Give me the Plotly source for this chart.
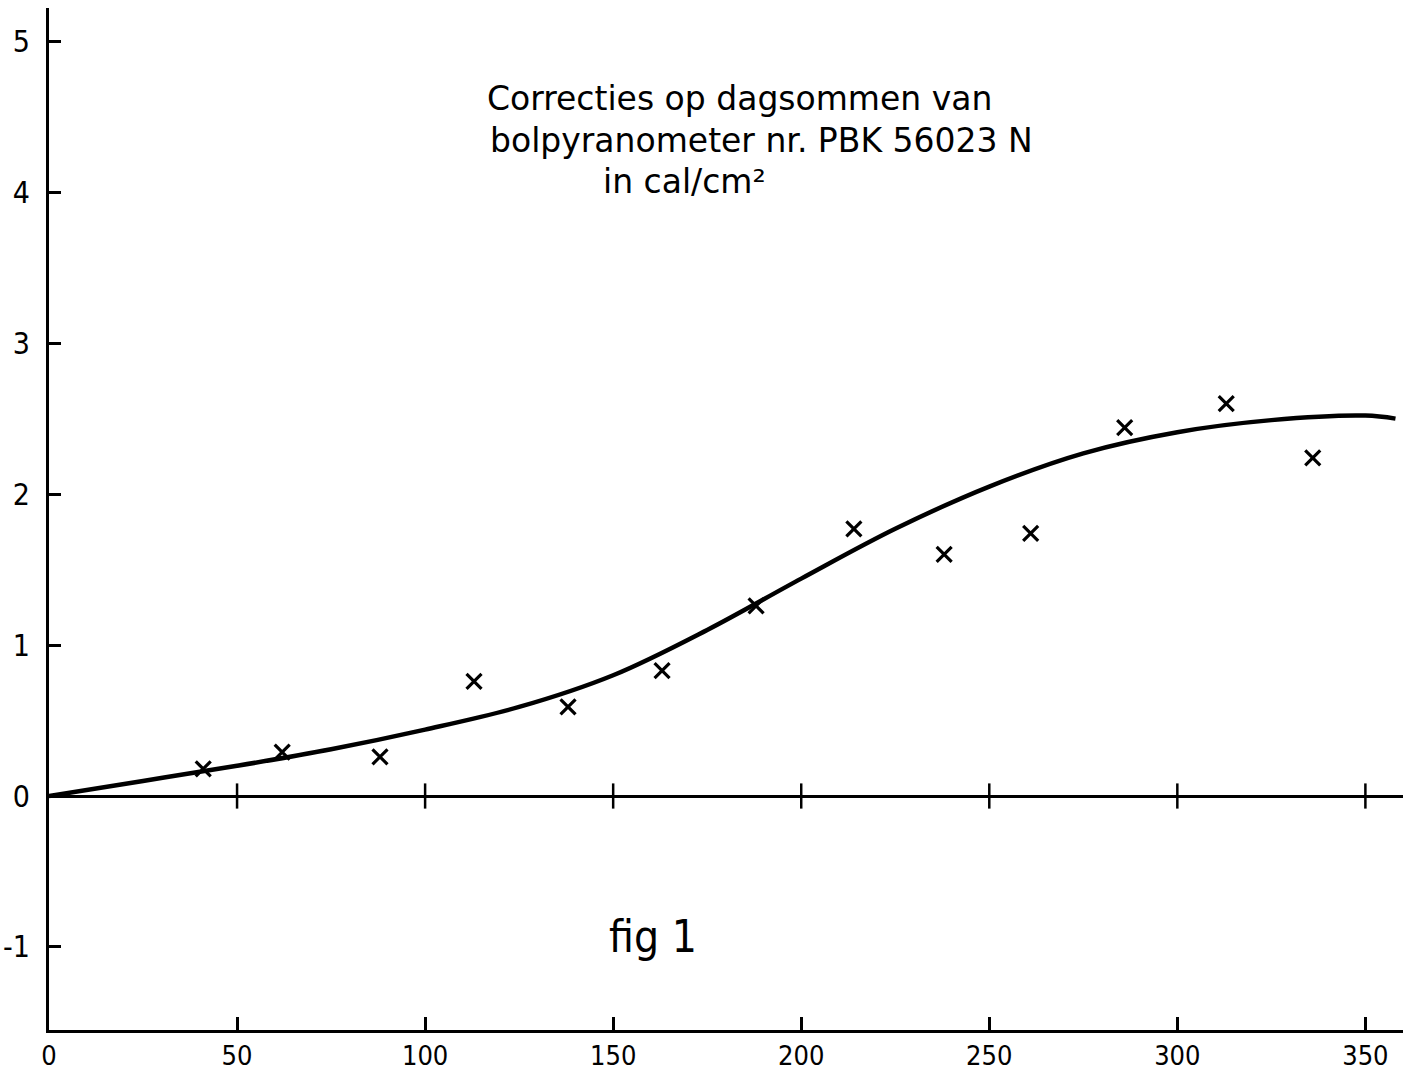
import plotly.graph_objects as go

# Measured points (x marks)
point_x = [41, 62, 88, 113, 138, 163, 188, 214, 238, 261, 286, 313, 336]
point_y = [0.18, 0.29, 0.26, 0.76, 0.59, 0.83, 1.26, 1.77, 1.60, 1.74, 2.44, 2.60, 2.24]

# Smoothed correction curve
curve_x = [0, 25, 50, 75, 100, 125, 150, 175, 200, 225, 250, 275, 300, 325, 350, 358]
curve_y = [0, 0.10, 0.20, 0.31, 0.44, 0.59, 0.80, 1.10, 1.44, 1.77, 2.05, 2.27, 2.41, 2.49, 2.52, 2.50]

# Axis ticks
x_ticks = [0, 50, 100, 150, 200, 250, 300, 350]
x_ticktext = ["0", "50", "100", "150", "200", "250", "300", "350"]
y_ticks = [-1, 0, 1, 2, 3, 4, 5]
y_ticktext = ["-1", "0", "1", "2", "3", "4", "5"]

title_lines = ["Correcties op dagsommen van",
               "bolpyranometer nr. PBK 56023 N",
               "in cal/cm²"]
fig_label = "fig 1"

FONT = "DejaVu Sans Condensed, DejaVu Sans, sans-serif"
TITLE_FONT = "DejaVu Sans, sans-serif"

fig = go.Figure()

fig.add_trace(go.Scatter(
    x=curve_x, y=curve_y, mode="lines",
    line=dict(color="black", width=4.5, shape="spline", smoothing=1.0),
    hoverinfo="skip", showlegend=False))

# tick marks crossing the zero line
fig.add_trace(go.Scatter(
    x=x_ticks[1:], y=[0] * (len(x_ticks) - 1), mode="markers",
    marker=dict(symbol="line-ns", size=18, line=dict(color="black", width=2.5)),
    hoverinfo="skip", showlegend=False))

fig.add_trace(go.Scatter(
    x=point_x, y=point_y, mode="markers",
    marker=dict(symbol="x-thin", size=15, line=dict(color="black", width=3.2)),
    showlegend=False))

annos = []
title_pos = [(116.0, 4.62), (116.8, 4.345), (146.8, 4.07)]
for txt, (ax, ay) in zip(title_lines, title_pos):
    annos.append(dict(x=ax, y=ay, xref="x", yref="y", text=txt, showarrow=False,
                      xanchor="left", yanchor="middle",
                      font=dict(family=TITLE_FONT, size=33, color="black")))
annos.append(dict(x=160.5, y=-0.93, xref="x", yref="y", text=fig_label, showarrow=False,
                  xanchor="center", yanchor="middle",
                  font=dict(family=FONT, size=44, color="black")))

fig.update_layout(
    width=1414, height=1079,
    margin=dict(l=49, r=11, t=8, b=49),
    paper_bgcolor="white", plot_bgcolor="white",
    font=dict(family=FONT, color="black"),
    annotations=annos,
    xaxis=dict(range=[0, 360], tickvals=x_ticks, ticktext=x_ticktext,
               automargin=False,
               showgrid=False, zeroline=False, showline=True, linewidth=3,
               linecolor="black", ticks="inside", ticklen=13, tickwidth=2.5,
               tickcolor="black", tickfont=dict(size=27, family=FONT)),
    yaxis=dict(range=[-1.55, 5.22], tickvals=y_ticks, ticktext=y_ticktext,
               automargin=False,
               showgrid=False, zeroline=True, zerolinewidth=3, zerolinecolor="black",
               showline=True, linewidth=3, linecolor="black",
               ticks="inside", ticklen=12, tickwidth=2.5, tickcolor="black",
               ticklabelstandoff=10,
               tickfont=dict(size=30, family=FONT)),
)

fig.write_html("out.html")
